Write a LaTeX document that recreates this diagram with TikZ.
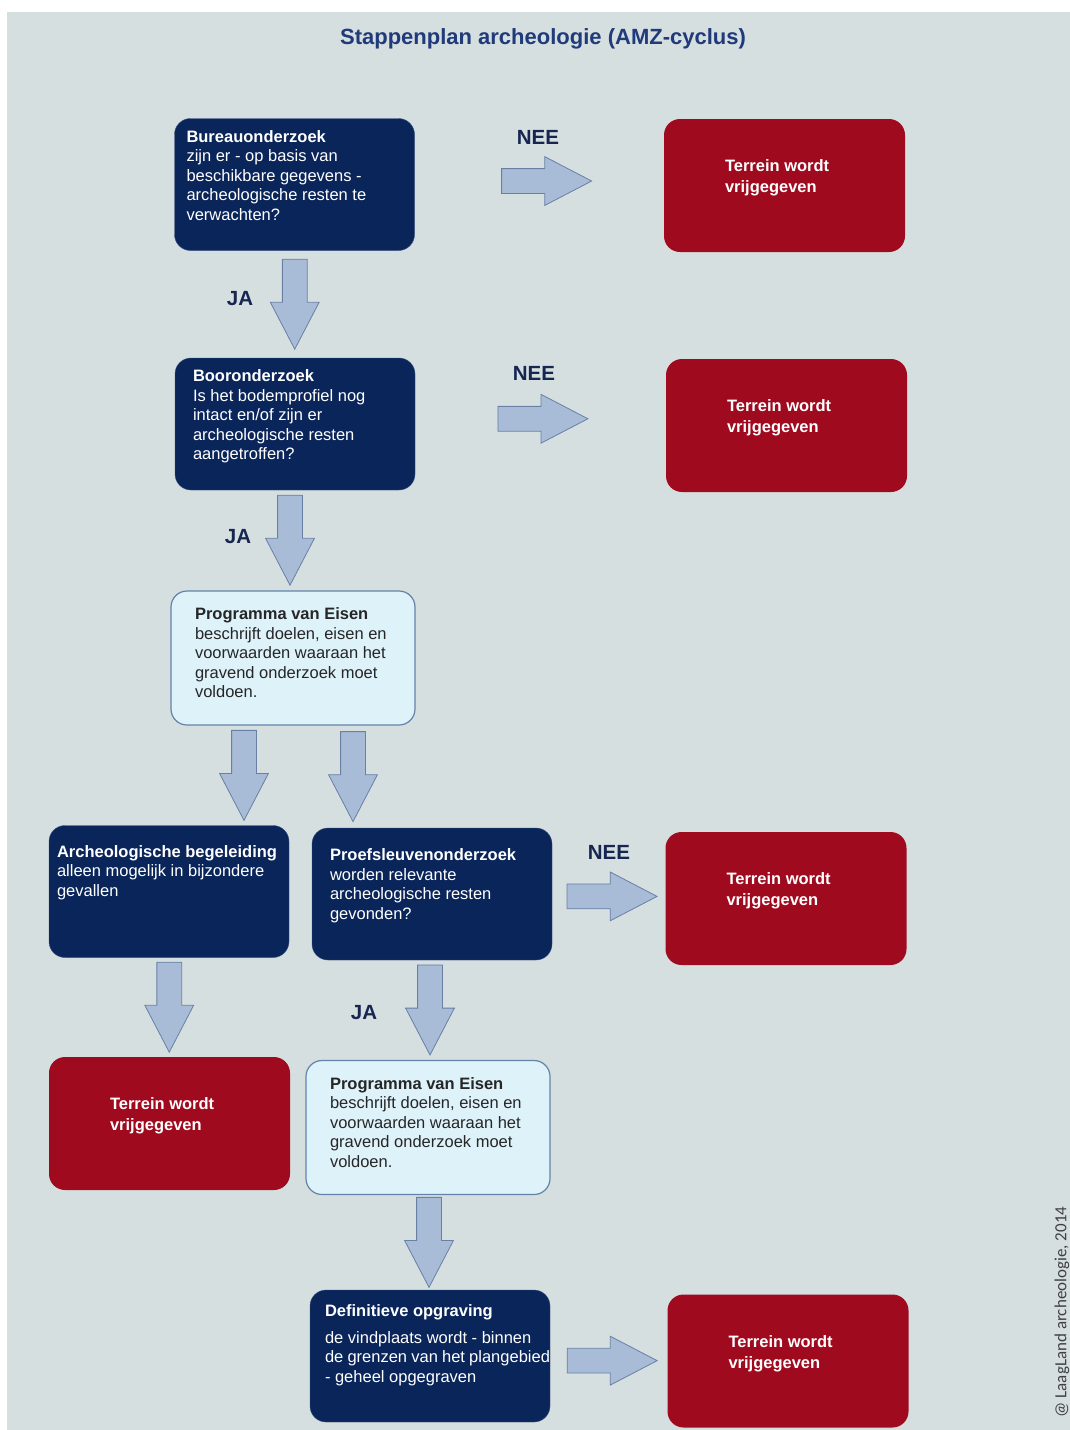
\documentclass[tikz,border=0pt]{standalone}
\usepackage{fontspec}
\setmainfont{Liberation Sans}
\newfontfamily\creditfont{Carlito}
\usetikzlibrary{shapes.arrows}

\definecolor{bgcol}{RGB}{214,223,224}
\definecolor{navy}{RGB}{10,37,90}
\definecolor{navyline}{RGB}{55,80,125}
\definecolor{redbox}{RGB}{160,10,30}
\definecolor{lightbox}{RGB}{222,242,250}
\definecolor{lightline}{RGB}{100,130,170}
\definecolor{arrowfill}{RGB}{168,187,215}
\definecolor{arrowline}{RGB}{105,128,165}
\definecolor{titleblue}{RGB}{32,58,122}
\definecolor{labelblue}{RGB}{22,38,80}

\newcommand{\boxtext}[3]{\parbox[c][130pt][t]{240pt}{\leftskip=#1pt\rightskip=0pt plus 1fil\vspace*{#2pt}\strut#3}}

\tikzset{
  stepbox/.style={rounded corners=16pt, inner sep=0pt, minimum width=240pt, minimum height=132pt, font=\fontsize{16.5}{19.5}\selectfont},
  darkbox/.style={stepbox, fill=navy, draw=navyline, text=white},
  pvebox/.style={stepbox, fill=lightbox, draw=lightline, line width=1.2pt, text=black!85, minimum width=244pt, minimum height=134pt},
  endbox/.style={stepbox, fill=redbox, text=white, minimum width=241pt, minimum height=133pt, font=\fontsize{16.5}{21}\selectfont\bfseries},
  blockarrow/.style={single arrow, fill=arrowfill, draw=arrowline, line width=0.8pt, inner xsep=0pt, inner ysep=12pt, minimum height=90pt, single arrow head extend=12pt, single arrow tip angle=55},
  rightarrow/.style={blockarrow, xshift=-12pt},
  downarrow/.style={blockarrow, rotate=-90, xshift=-12pt},
  answer/.style={text=labelblue, font=\fontsize{20.5}{24}\selectfont\bfseries}
}

\begin{document}
\begin{tikzpicture}[x=1pt,y=-1pt]
\useasboundingbox (0,0) rectangle (1070,1430);
\fill[bgcol] (7,12) rectangle (1072,1432);

\node[font=\fontsize{22}{26}\selectfont\bfseries, text=titleblue] (title) at (543,39) {Stappenplan archeologie (AMZ-cyclus)};

% steps
\node[darkbox] (bureau) at (294.5,184.5) {\boxtext{12}{9.25}{\textbf{Bureauonderzoek}\\zijn er - op basis van\\beschikbare gegevens -\\archeologische resten te\\verwachten?}};
\node[darkbox] (booron) at (295,424) {\boxtext{18}{9.25}{\textbf{Booronderzoek}\\Is het bodemprofiel nog\\intact en/of zijn er\\archeologische resten\\aangetroffen?}};
\node[pvebox] (pve1) at (293,658) {\boxtext{22}{13.25}{\textbf{Programma van Eisen}\\beschrijft doelen, eisen en\\voorwaarden waaraan het\\gravend onderzoek moet\\voldoen.}};
\node[darkbox] (begel) at (169,891.5) {\boxtext{8}{17.25}{\textbf{Archeologische begeleiding}\\alleen mogelijk in bijzondere\\gevallen}};
\node[darkbox] (proef) at (432,894) {\boxtext{18}{18.25}{\textbf{Proefsleuvenonderzoek}\\worden relevante\\archeologische resten\\gevonden?}};
\node[pvebox] (pve2) at (428,1127.5) {\boxtext{22}{13.25}{\textbf{Programma van Eisen}\\beschrijft doelen, eisen en\\voorwaarden waaraan het\\gravend onderzoek moet\\voldoen.}};
\node[darkbox] (opgr) at (430,1356) {\boxtext{15}{12.25}{\textbf{Definitieve opgraving}\\[7pt]de vindplaats wordt - binnen\\de grenzen van het plangebied\\- geheel opgegraven}};

% ends
\node[endbox] (vrij1) at (784.5,185.5) {\boxtext{60.5}{36.7}{Terrein wordt\\vrijgegeven}};
\node[endbox] (vrij2) at (786.5,425.5) {\boxtext{60.5}{36.7}{Terrein wordt\\vrijgegeven}};
\node[endbox] (vrij3) at (786,898.5) {\boxtext{60.5}{36.7}{Terrein wordt\\vrijgegeven}};
\node[endbox] (vrij4) at (169.5,1123.5) {\boxtext{60.5}{36.7}{Terrein wordt\\vrijgegeven}};
\node[endbox] (vrij5) at (788,1361) {\boxtext{60.5}{36.7}{Terrein wordt\\vrijgegeven}};

% arrows
\path (bureau.east) -- (vrij1.west) node[rightarrow, pos=.53, yshift=4pt] (nee1arr) {};
\path (bureau.south) -- (booron.north) node[downarrow, midway] (ja1arr) {};
\path (booron.east) -- (vrij2.west) node[rightarrow, pos=.51, yshift=6pt] (nee2arr) {};
\path (booron.south) -- (pve1.north) node[downarrow, midway, yshift=-4pt] (ja2arr) {};
\path ([xshift=-49pt]pve1.south) -- ([xshift=-49pt]pve1.south |- begel.north) node[downarrow, midway] (pvearr1) {};
\path ([xshift=60pt]pve1.south) -- ([xshift=60pt]pve1.south |- proef.north) node[downarrow, midway] (pvearr2) {};
\path (begel.south) -- (vrij4.north) node[downarrow, midway] (begelarr) {};
\path (proef.east) -- (vrij3.west) node[rightarrow, pos=.53] (nee3arr) {};
\path (proef.south) -- (pve2.north) node[downarrow, midway] (ja3arr) {};
\path (pve2.south) -- (opgr.north) node[downarrow, midway] (pvearr3) {};
\path (opgr.east) -- (vrij5.west) node[rightarrow, pos=.53, yshift=-2pt] (opgrarr) {};

\node[answer] (nee1) at (538,137) {NEE};
\node[answer] (ja1) at (240,299) {JA};
\node[answer] (nee2) at (534,373) {NEE};
\node[answer] (ja2) at (238,537) {JA};
\node[answer] (nee3) at (609,852) {NEE};
\node[answer] (ja3) at (364,1013) {JA};

\node[font=\creditfont\fontsize{17}{20}\selectfont, text=black!75, rotate=90] (credit) at (1062,1312) {@ LaagLand archeologie, 2014};
\end{tikzpicture}
\end{document}
